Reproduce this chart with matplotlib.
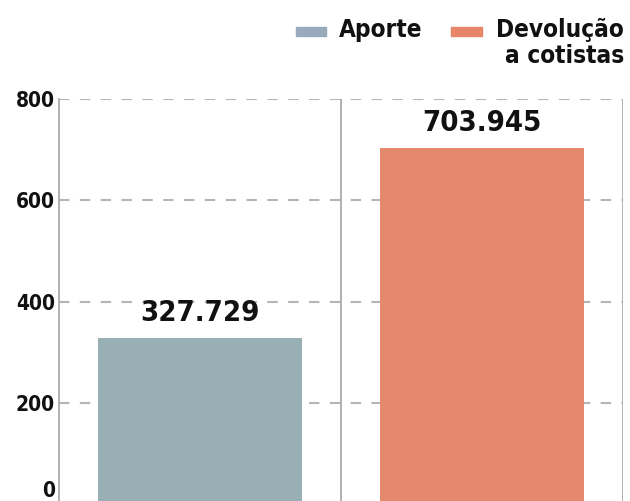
import matplotlib.pyplot as plt
from matplotlib.patches import Rectangle
from matplotlib.transforms import offset_copy

# data
categories = ["Aporte", "Devolução\na cotistas"]
values = [327.729, 703.945]
value_labels = ["327.729", "703.945"]
colors = ["#98afb4", "#e5896e"]
yticks = [0, 200, 400, 600, 800]

plt.rcParams["font.family"] = ["DejaVu Sans"]
plt.rcParams["font.stretch"] = "condensed"
plt.rcParams["font.weight"] = "bold"

fig = plt.figure(figsize=(6.3, 5.01), dpi=100)
ax = fig.add_axes([59 / 630, -3 / 501, 564 / 630, 405 / 501])

x = list(range(len(values)))
ax.bar(x, values, width=0.72, color=colors, zorder=3)

for xi, v, lab in zip(x, values, value_labels):
    ax.annotate(lab, (xi, v), xytext=(0, 8), textcoords="offset points",
                ha="center", va="bottom", fontsize=21, fontweight="bold",
                fontstretch="condensed", color="#111111", zorder=4)

ax.set_xlim(-0.5, 1.5)
ax.set_ylim(0, 800)
ax.set_yticks(yticks)
ax.set_yticklabels([str(t) for t in yticks], fontsize=15, fontweight="bold",
                   fontstretch="condensed", color="#111111")
zero_lab = ax.get_yticklabels()[0]
zero_lab.set_va("bottom")
ax.tick_params(axis="y", length=0, pad=3)
ax.set_xticks([])

ax.grid(True, axis="y", color="#b5b5b5", linestyle=(0, (5, 5)), linewidth=1.5, zorder=1)
for s in ["top", "bottom", "right"]:
    ax.spines[s].set_visible(False)
ax.spines["left"].set_color("#aaaaaa")
ax.spines["left"].set_linewidth(1.3)
for xv in [0.5, 1.5]:
    ax.axvline(xv, color="#aaaaaa", linewidth=1.3, zorder=2)

# legend
fig.patches.append(Rectangle((296 / 630, 1 - 36 / 501), 30 / 630, 9 / 501,
                             transform=fig.transFigure, color="#98aabb"))
fig.text(339 / 630, 1 - 18 / 501, categories[0], fontsize=17.5, fontweight="bold",
         fontstretch="condensed", va="top", ha="left", color="#111111")
fig.patches.append(Rectangle((451 / 630, 1 - 36 / 501), 31 / 630, 9 / 501,
                             transform=fig.transFigure, color="#e8866a"))
fig.text(624 / 630, 1 - 18 / 501, categories[1], fontsize=17.5, fontweight="bold",
         fontstretch="condensed", va="top", ha="right", ma="right",
         linespacing=1.1, color="#111111")

fig.canvas.draw()
zero_lab.set_transform(offset_copy(zero_lab.get_transform(), fig=fig, x=0, y=3, units="dots"))

fig.savefig("out.png", dpi=100)
